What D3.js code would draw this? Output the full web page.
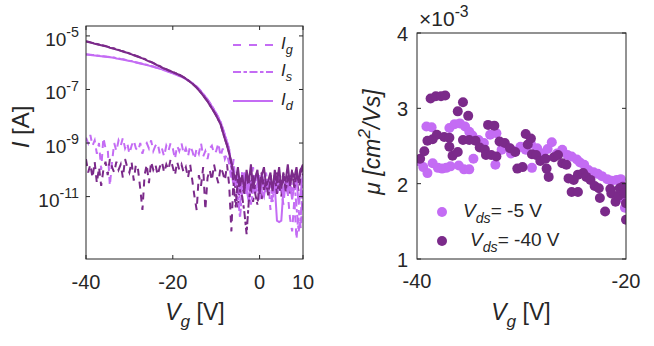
<!DOCTYPE html>
<html>
<head>
<meta charset="utf-8">
<script src="https://cdn.jsdelivr.net/npm/d3@7"></script>
<style>
  body { margin: 0; background: #fff; }
  text { font-family: "Liberation Sans", Arial, sans-serif; fill: #262626; }
</style>
</head>
<body>
<svg id="chart" width="654" height="346"></svg>
<script>
// gate sweep, 0.5 V steps from -40 to 10 V
var vg = d3.range(-40, 10.001, 0.5);

// currents as log10(I/A), one value per gate step
var idLight = [
  -5.69, -5.70, -5.71, -5.72, -5.73, -5.74, -5.75, -5.76, -5.77, -5.78,
  -5.79, -5.80, -5.81, -5.82, -5.84, -5.85, -5.87, -5.88, -5.90, -5.92,
  -5.94, -5.95, -5.97, -5.99, -6.01, -6.03, -6.05, -6.07, -6.09, -6.11,
  -6.13, -6.15, -6.18, -6.20, -6.23, -6.25, -6.28, -6.31, -6.34, -6.37,
  -6.40, -6.43, -6.46, -6.50, -6.53, -6.57, -6.61, -6.66, -6.71, -6.77,
  -6.83, -6.90, -6.98, -7.07, -7.17, -7.27, -7.38, -7.50, -7.63, -7.76,
  -7.90, -8.05, -8.22, -8.45, -8.70, -8.96, -9.25, -9.9, -10.3, -10.6,
  -10.2, -10.9, -10.4, -10.1, -10.7, -11.2, -10.5, -10.3, -10.9, -10.6,
  -10.2, -10.8, -11.0, -10.4, -10.7, -10.3, -10.9, -10.6, -11.9, -11.95,
  -11.9, -10.7, -10.4, -10.9, -10.5, -11.1, -10.6, -10.3, -11.3, -10.8,
  -10.1];
var isLight = [
  -5.68, -5.69, -5.70, -5.71, -5.72, -5.73, -5.74, -5.75, -5.76, -5.77,
  -5.78, -5.79, -5.80, -5.81, -5.83, -5.84, -5.86, -5.87, -5.89, -5.91,
  -5.93, -5.94, -5.96, -5.98, -6.00, -6.02, -6.04, -6.06, -6.08, -6.10,
  -6.12, -6.14, -6.17, -6.19, -6.22, -6.24, -6.27, -6.30, -6.33, -6.36,
  -6.39, -6.42, -6.45, -6.49, -6.52, -6.56, -6.60, -6.65, -6.70, -6.76,
  -6.82, -6.89, -6.97, -7.06, -7.16, -7.26, -7.37, -7.49, -7.62, -7.75,
  -7.89, -8.04, -8.21, -8.44, -8.69, -8.95, -9.24, -10.0, -10.6, -10.2,
  -11.0, -11.8, -10.7, -10.3, -10.9, -10.5, -11.3, -10.8, -10.2, -10.6,
  -11.1, -10.4, -10.7, -10.1, -10.9, -10.5, -11.2, -10.4, -10.8, -10.2,
  -10.6, -11.0, -10.3, -10.7, -10.2, -10.8, -10.4, -11.4, -12.3, -11.7,
  -10.3];
var igLight = [
  -8.8, -9.0, -8.7, -9.1, -8.9, -9.4, -9.0, -10.0, -8.8, -9.2,
  -9.2, -10.6, -9.7, -9.0, -9.3, -8.9, -9.1, -8.8, -9.2, -9.0,
  -9.4, -9.1, -8.9, -9.2, -9.3, -9.0, -9.4, -9.1, -9.0, -9.2,
  -8.9, -9.3, -9.1, -9.0, -9.4, -9.2, -9.5, -9.1, -9.3, -9.0,
  -9.2, -9.6, -9.1, -9.3, -9.0, -9.4, -9.2, -9.5, -9.1, -9.3,
  -9.6, -9.2, -9.4, -9.0, -9.5, -9.3, -9.6, -9.2, -9.1, -9.4,
  -9.3, -9.0, -9.5, -9.2, -9.6, -9.4, -9.8, -10.4, -9.6, -10.7,
  -10.2, -11.3, -10.0, -10.6, -10.3, -11.0, -10.5, -9.9, -10.8, -10.4,
  -11.2, -10.1, -10.6, -10.9, -10.3, -11.5, -10.7, -10.2, -11.0, -10.5,
  -10.8, -11.3, -10.4, -10.9, -11.8, -12.3, -11.1, -12.6, -11.5, -12.2,
  -10.6];
var idDark = [
  -5.21, -5.23, -5.25, -5.27, -5.29, -5.31, -5.33, -5.35, -5.37, -5.39,
  -5.41, -5.44, -5.46, -5.48, -5.51, -5.53, -5.56, -5.58, -5.61, -5.63,
  -5.66, -5.69, -5.72, -5.75, -5.78, -5.81, -5.84, -5.87, -5.91, -5.95,
  -5.98, -6.02, -6.06, -6.10, -6.14, -6.18, -6.22, -6.25, -6.29, -6.32,
  -6.35, -6.39, -6.42, -6.46, -6.50, -6.55, -6.60, -6.66, -6.72, -6.79,
  -6.86, -6.94, -7.03, -7.13, -7.23, -7.34, -7.45, -7.58, -7.71, -7.84,
  -7.98, -8.14, -8.30, -8.58, -8.85, -9.10, -9.40, -9.7, -10.1, -10.4,
  -9.9, -10.6, -10.2, -10.8, -10.0, -10.5, -9.8, -10.7, -10.3, -10.0,
  -10.9, -10.2, -9.9, -10.6, -10.4, -10.1, -10.8, -10.0, -10.5, -9.9,
  -10.7, -10.2, -10.4, -9.8, -10.6, -10.1, -10.3, -9.9, -10.5, -10.0,
  -9.8];
var isDark = [
  -5.20, -5.22, -5.24, -5.26, -5.28, -5.30, -5.32, -5.34, -5.36, -5.38,
  -5.40, -5.43, -5.45, -5.47, -5.50, -5.52, -5.55, -5.57, -5.60, -5.62,
  -5.65, -5.68, -5.71, -5.74, -5.77, -5.80, -5.83, -5.86, -5.90, -5.94,
  -5.97, -6.01, -6.05, -6.09, -6.13, -6.17, -6.21, -6.24, -6.28, -6.31,
  -6.34, -6.38, -6.41, -6.45, -6.49, -6.54, -6.59, -6.65, -6.71, -6.78,
  -6.85, -6.93, -7.02, -7.12, -7.22, -7.33, -7.44, -7.57, -7.70, -7.83,
  -7.97, -8.13, -8.29, -8.57, -8.84, -9.08, -9.38, -9.8, -10.5, -11.4,
  -10.3, -10.8, -11.0, -11.6, -12.4, -11.2, -10.6, -10.2, -10.9, -11.3,
  -10.5, -10.1, -10.8, -10.4, -11.0, -10.3, -10.7, -10.2, -10.9, -10.4,
  -10.6, -10.1, -10.8, -10.3, -10.5, -10.0, -10.7, -10.2, -10.4, -9.9,
  -10.2];
var igDark = [
  -9.6, -10.1, -9.8, -10.3, -9.7, -10.5, -9.9, -10.6, -10.0, -9.7,
  -10.2, -9.6, -9.9, -10.1, -9.7, -10.0, -9.8, -10.3, -9.6, -9.9,
  -10.1, -9.7, -10.4, -9.8, -10.0, -10.7, -11.5, -10.2, -9.8, -10.5,
  -9.7, -10.0, -9.8, -10.2, -9.9, -9.7, -10.1, -9.8, -10.0, -9.6,
  -9.9, -10.2, -9.7, -10.0, -9.8, -10.1, -9.9, -10.3, -9.8, -10.4,
  -11.0, -11.5, -10.2, -10.6, -9.9, -11.5, -10.3, -10.0, -10.4, -9.8,
  -10.2, -10.5, -9.9, -10.1, -10.4, -9.8, -10.6, -12.3, -10.2, -10.8,
  -11.4, -10.3, -10.6, -11.0, -10.1, -10.7, -10.4, -11.2, -10.5, -10.0,
  -10.8, -11.1, -10.3, -10.6, -10.9, -10.2, -10.5, -10.8, -10.1, -10.6,
  -11.0, -10.3, -10.7, -10.4, -10.9, -10.2, -10.6, -10.4, -10.8, -10.3,
  -9.8];

// mobility (x1e-3 cm^2/Vs) vs gate voltage
var vgMuLight = [-39.8, -39.4, -39.0, -39.1, -38.6, -38.5, -38.0, -37.6, -37.2, -36.8,
  -36.9, -36.4, -35.9, -35.4, -35.0, -36.0, -35.5, -35.0, -34.6, -34.7,
  -34.1, -33.6, -33.0, -32.4, -32.5, -31.9, -31.4, -31.0, -30.6, -30.1,
  -29.6, -29.1, -29.0, -28.5, -28.0, -27.5, -27.1, -26.6, -26.1, -25.6,
  -25.2, -24.7, -24.4, -24.0, -23.6, -23.1, -22.7, -22.3, -21.8, -21.4,
  -20.9, -20.5, -20.7, -20.2, -20.1];
var muLight = [2.30, 2.22, 2.14, 2.76, 2.75, 2.27, 2.21, 2.20, 2.21, 2.23,
  2.74, 2.79, 2.80, 2.76, 2.69, 2.24, 2.19, 2.19, 2.33, 2.64,
  2.58, 2.54, 2.65, 2.67, 2.25, 2.45, 2.49, 2.40, 2.43, 2.49,
  2.45, 2.53, 2.21, 2.47, 2.40, 2.46, 2.55, 2.40, 2.45, 2.38,
  2.36, 2.32, 2.28, 2.25, 2.18, 2.15, 2.13, 2.10, 2.06, 2.04,
  2.05, 2.06, 1.83, 1.80, 1.68];
var vgMuDark = [-39.7, -39.3, -39.0, -38.5, -38.7, -38.2, -37.7, -37.3, -38.1, -37.4,
  -36.9, -36.9, -36.6, -36.1, -36.1, -35.6, -35.1, -35.6, -35.0, -34.4,
  -34.0, -33.5, -33.2, -32.6, -33.4, -32.9, -32.4, -32.1, -31.6, -31.1,
  -30.6, -30.4, -29.9, -29.6, -29.1, -29.4, -29.0, -28.6, -28.2, -27.7,
  -27.6, -27.4, -26.9, -26.5, -26.1, -25.7, -25.5, -25.0, -25.2, -24.6,
  -24.6, -24.1, -23.8, -23.4, -23.0, -22.6, -22.5, -22.0, -21.5, -21.4,
  -21.0, -20.7, -20.6, -20.3, -20.2, -20.0, -20.0];
var muDark = [2.33, 2.43, 2.57, 2.59, 3.13, 3.16, 3.16, 3.17, 2.65, 2.62,
  2.61, 2.49, 2.37, 2.42, 2.96, 3.08, 2.90, 2.58, 2.58, 2.57,
  2.48, 2.45, 2.78, 2.77, 2.38, 2.38, 2.36, 2.56, 2.54, 2.47,
  2.42, 2.20, 2.22, 2.66, 2.60, 2.52, 2.39, 2.38, 2.30, 2.33,
  2.20, 2.09, 2.35, 2.38, 2.27, 2.25, 2.07, 2.05, 1.89, 1.89,
  2.12, 2.14, 2.09, 2.05, 1.97, 1.94, 1.81, 1.63, 1.93, 1.87,
  1.76, 1.84, 1.94, 1.96, 1.87, 1.74, 1.52];

var xTicksL = [-40, -20, 0, 10];
var yTicksL = [-5, -7, -9, -11];
var xTicksR = [-40, -20];
var yTicksR = [1, 2, 3, 4];

var light = "#c46cf4", dark = "#7b2a8a", ink = "#262626";

var svg = d3.select("#chart");

// writes text made of parts: {t, it, sub, sup}
function rich(el, parts, size) {
  var shift = 0;
  parts.forEach(function (p) {
    var target = p.sub ? size * 0.32 : p.sup ? -size * 0.45 : 0;
    el.append("tspan")
      .attr("dy", target - shift)
      .style("font-size", (p.sub || p.sup ? size * 0.75 : size) + "px")
      .style("font-style", p.it ? "italic" : "normal")
      .text(p.t);
    shift = target;
  });
  return el;
}

// ---------- left panel: transfer curves ----------
var xL = d3.scaleLinear().domain([-40, 10]).range([86, 303]);
var yL = d3.scaleLog().domain([Math.pow(10, -13.33), Math.pow(10, -4.63)]).range([259, 26]);

svg.append("clipPath").attr("id", "clipL")
  .append("rect").attr("x", 86).attr("y", 26).attr("width", 217).attr("height", 233);

var gL = svg.append("g").attr("clip-path", "url(#clipL)");
var lineL = function (vals) {
  return d3.line()
    .x(function (d, i) { return xL(vg[i]); })
    .y(function (d) { return yL(Math.pow(10, d)); })(vals);
};

var seriesL = [
  {v: igLight, c: light, dash: "7,6"},
  {v: igDark, c: dark, dash: "7,6"},
  {v: isLight, c: light, dash: "8,2.5,3.5,2.5"},
  {v: idLight, c: light, dash: null},
  {v: isDark, c: dark, dash: "8,2.5,3.5,2.5"},
  {v: idDark, c: dark, dash: null}
];
seriesL.forEach(function (s) {
  gL.append("path")
    .attr("d", lineL(s.v))
    .attr("fill", "none")
    .attr("stroke", s.c)
    .attr("stroke-width", 2)
    .attr("stroke-dasharray", s.dash);
});

// box and ticks
svg.append("rect").attr("x", 86).attr("y", 26).attr("width", 217).attr("height", 233)
  .attr("fill", "none").attr("stroke", ink).attr("stroke-width", 1);

xTicksL.forEach(function (t) {
  svg.append("line").attr("x1", xL(t)).attr("x2", xL(t)).attr("y1", 259).attr("y2", 255).attr("stroke", ink);
  svg.append("line").attr("x1", xL(t)).attr("x2", xL(t)).attr("y1", 26).attr("y2", 30).attr("stroke", ink);
  svg.append("text").attr("x", xL(t)).attr("y", 289).attr("text-anchor", "middle")
    .style("font-size", "20px").text(t);
});
yTicksL.forEach(function (t) {
  var y = yL(Math.pow(10, t));
  svg.append("line").attr("x1", 86).attr("x2", 90).attr("y1", y).attr("y2", y).attr("stroke", ink);
  svg.append("line").attr("x1", 303).attr("x2", 299).attr("y1", y).attr("y2", y).attr("stroke", ink);
  var txt = svg.append("text").attr("x", 79).attr("y", y + 10).attr("text-anchor", "end");
  rich(txt, [{t: "10"}, {t: String(t), sup: true}], 19);
});

var xlabL = svg.append("text").attr("x", 195).attr("y", 320).attr("text-anchor", "middle");
rich(xlabL, [{t: "V", it: true}, {t: "g", it: true, sub: true}, {t: " [V]"}], 23);

var ylabL = svg.append("text").attr("transform", "translate(29,127) rotate(-90)").attr("text-anchor", "middle");
rich(ylabL, [{t: "I", it: true}, {t: " [A]"}], 24);

// legend
var legL = [
  {name: "g", c: light, dash: "8,8", y: 45},
  {name: "s", c: light, dash: "8,2.5,3.5,2.5", y: 72},
  {name: "d", c: light, dash: null, y: 101}
];
legL.forEach(function (l) {
  svg.append("line").attr("x1", 233).attr("x2", 273).attr("y1", l.y).attr("y2", l.y)
    .attr("stroke", l.c).attr("stroke-width", 2).attr("stroke-dasharray", l.dash);
  var t = svg.append("text").attr("x", 281).attr("y", l.y + 4);
  rich(t, [{t: "I", it: true}, {t: l.name, it: true, sub: true}], 17);
});

// ---------- right panel: mobility ----------
var xR = d3.scaleLinear().domain([-40, -20]).range([417, 626]);
var yR = d3.scaleLinear().domain([1, 4]).range([259, 33]);

svg.append("clipPath").attr("id", "clipR")
  .append("rect").attr("x", 417).attr("y", 33).attr("width", 209).attr("height", 226);
var gR = svg.append("g").attr("clip-path", "url(#clipR)");

gR.append("g").selectAll("circle")
  .data(vgMuLight)
  .enter()
  .append("circle")
  .attr("cx", function (d) { return xR(d); })
  .attr("cy", function (d, i) { return yR(muLight[i]); })
  .attr("r", 5)
  .style("fill", light);

gR.append("g").selectAll("circle")
  .data(vgMuDark)
  .enter()
  .append("circle")
  .attr("cx", function (d) { return xR(d); })
  .attr("cy", function (d, i) { return yR(muDark[i]); })
  .attr("r", 5)
  .style("fill", dark);

svg.append("rect").attr("x", 417).attr("y", 33).attr("width", 209).attr("height", 226)
  .attr("fill", "none").attr("stroke", ink).attr("stroke-width", 1);

xTicksR.forEach(function (t) {
  svg.append("text").attr("x", xR(t)).attr("y", 288).attr("text-anchor", "middle")
    .style("font-size", "20px").text(t);
});
yTicksR.forEach(function (t) {
  var y = yR(t);
  svg.append("line").attr("x1", 417).attr("x2", 421).attr("y1", y).attr("y2", y).attr("stroke", ink);
  svg.append("line").attr("x1", 626).attr("x2", 622).attr("y1", y).attr("y2", y).attr("stroke", ink);
  svg.append("text").attr("x", 408).attr("y", y + 8).attr("text-anchor", "end")
    .style("font-size", "20px").text(t);
});

var expR = svg.append("text").attr("x", 419).attr("y", 26);
rich(expR, [{t: "\u00d710"}, {t: "-3", sup: true}], 21);

var xlabR = svg.append("text").attr("x", 521).attr("y", 320).attr("text-anchor", "middle");
rich(xlabR, [{t: "V", it: true}, {t: "g", it: true, sub: true}, {t: " [V]"}], 23);

var ylabR = svg.append("text").attr("transform", "translate(380,142) rotate(-90)").attr("text-anchor", "middle");
rich(ylabR, [{t: "\u03bc [cm", it: true}, {t: "2", it: true, sup: true}, {t: "/Vs]", it: true}], 23);

// legend
var legR = [
  {label: "= -5 V", c: light, y: 212, tx: 463},
  {label: "= -40 V", c: dark, y: 241, tx: 470}
];
legR.forEach(function (l) {
  svg.append("circle").attr("cx", 442).attr("cy", l.y).attr("r", 5).style("fill", l.c);
  var t = svg.append("text").attr("x", l.tx).attr("y", l.y + 5);
  rich(t, [{t: "V", it: true}, {t: "ds", it: true, sub: true}, {t: l.label}], 19);
});
</script>
</body>
</html>
